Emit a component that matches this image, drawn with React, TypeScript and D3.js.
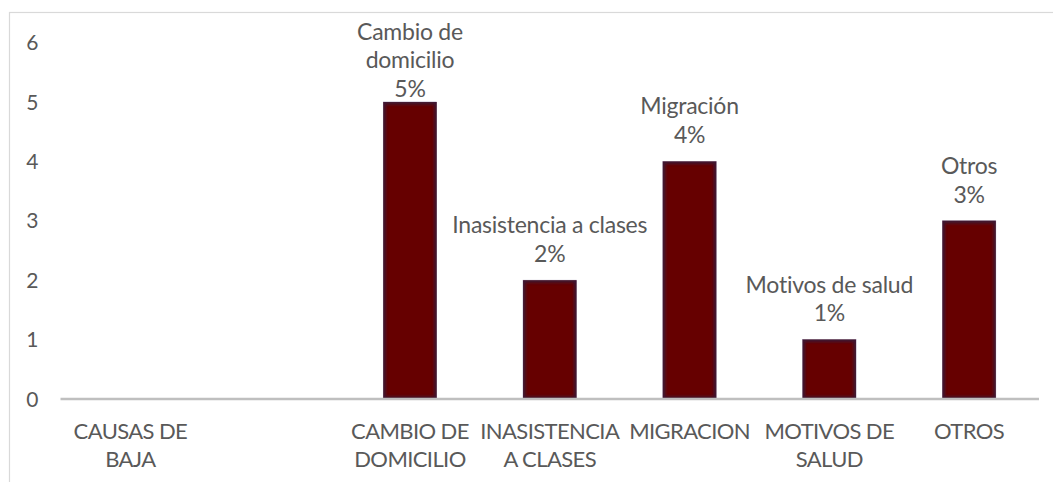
import React from "react";
import * as d3 from "d3";

const categories = [
  "CAUSAS DE BAJA",
  "",
  "CAMBIO DE DOMICILIO",
  "INASISTENCIA A CLASES",
  "MIGRACION",
  "MOTIVOS DE SALUD",
  "OTROS",
];
const categoryLines = [
  ["CAUSAS DE", "BAJA"],
  [],
  ["CAMBIO DE", "DOMICILIO"],
  ["INASISTENCIA", "A CLASES"],
  ["MIGRACION"],
  ["MOTIVOS DE", "SALUD"],
  ["OTROS"],
];
const values: (number | null)[] = [null, null, 5, 2, 4, 1, 3];
const dataLabelLines = [
  [],
  [],
  ["Cambio de", "domicilio", "5%"],
  ["Inasistencia a clases", "2%"],
  ["Migración", "4%"],
  ["Motivos de salud", "1%"],
  ["Otros", "3%"],
];
const yTicks = [0, 1, 2, 3, 4, 5, 6];

const W = 1053;
const H = 482;
const FONT = "Lato, 'Open Sans', sans-serif";
const TEXT = "#595959";

export default function App() {
  const x = d3
    .scaleBand<string>()
    .domain(categories)
    .range([60.5, 1039])
    .paddingInner(0.618)
    .paddingOuter(0.309);
  const y = d3.scaleLinear().domain([0, 6]).range([399, 42.6]);
  const lineH = 28.8;

  return (
    <svg
      width={W}
      height={H}
      style={{ position: "absolute", left: 0, top: 0, display: "block", background: "#fff" }}
    >
      <defs>
        <filter id="edgeBlur" x="-20%" y="-20%" width="140%" height="140%">
          <feGaussianBlur stdDeviation="1.6" />
        </filter>
        {categories.map((c, i) =>
          values[i] == null ? null : (
            <clipPath id={`clip${i}`} key={i}>
              <rect
                x={x(c)!}
                y={y(values[i] as number)}
                width={x.bandwidth()}
                height={y(0) - y(values[i] as number)}
              />
            </clipPath>
          )
        )}
      </defs>
      <rect x={9.5} y={12.5} width={1060} height={500} fill="#fff" stroke="#d9d9d9" strokeWidth={1.2} />

      {yTicks.map((t) => (
        <text
          key={t}
          x={38.5}
          y={y(t)}
          dy="0.36em"
          textAnchor="end"
          fontFamily={FONT}
          fontSize={21}
          fill={TEXT}
        >
          {t}
        </text>
      ))}

      {categories.map((c, i) => {
        const v = values[i];
        if (v == null) return null;
        const bx = x(c)!;
        const by = y(v);
        const bw = x.bandwidth();
        const bh = y(0) - by;
        return (
          <g key={i}>
            <rect x={bx} y={by} width={bw} height={bh} fill="#660000" stroke="#9a8fae" strokeWidth={0.6} />
            <g clipPath={`url(#clip${i})`}>
              <rect
                x={bx}
                y={by}
                width={bw}
                height={bh}
                fill="none"
                stroke="#3e1630"
                strokeWidth={5}
                filter="url(#edgeBlur)"
              />
            </g>
          </g>
        );
      })}

      <line x1={60.5} x2={1039} y1={399} y2={399} stroke="#bfbfbf" strokeWidth={2.6} />

      {categories.map((c, i) => {
        const v = values[i];
        const lines = dataLabelLines[i];
        if (v == null || lines.length === 0) return null;
        const cx = x(c)! + x.bandwidth() / 2;
        const n = lines.length;
        const last = Math.max(y(v) - 18.3, 39.5 + (n - 1) * lineH);
        return (
          <text key={i} textAnchor="middle" fontFamily={FONT} fontSize={23} letterSpacing={-0.25} fill={TEXT}>
            {lines.map((l, k) => (
              <tspan key={k} x={cx} y={last - (n - 1 - k) * lineH}>
                {l}
              </tspan>
            ))}
          </text>
        );
      })}

      {categories.map((c, i) => {
        const cx = x(c)! + x.bandwidth() / 2;
        return (
          <text key={i} textAnchor="middle" fontFamily={FONT} fontSize={22} letterSpacing={-0.6} fill={TEXT}>
            {categoryLines[i].map((l, k) => (
              <tspan key={k} x={cx} y={438.5 + k * 28}>
                {l}
              </tspan>
            ))}
          </text>
        );
      })}
    </svg>
  );
}
